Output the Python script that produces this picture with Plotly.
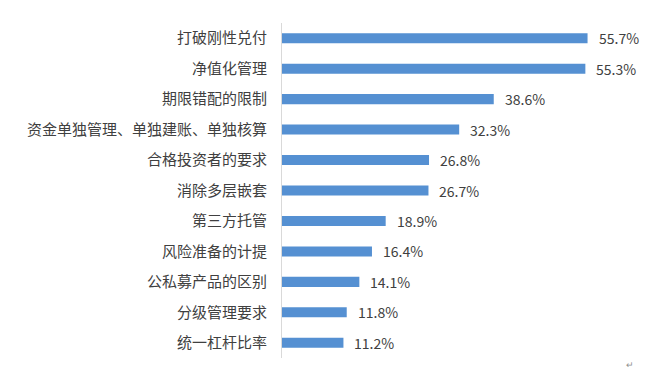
import plotly.graph_objects as go

categories = ["打破刚性兑付", "净值化管理", "期限错配的限制", "资金单独管理、单独建账、单独核算",
              "合格投资者的要求", "消除多层嵌套", "第三方托管", "风险准备的计提",
              "公私募产品的区别", "分级管理要求", "统一杠杆比率"]
values = [55.7, 55.3, 38.6, 32.3, 26.8, 26.7, 18.9, 16.4, 14.1, 11.8, 11.2]
value_labels = [f"{v:.1f}%" for v in values]

FONT = "Noto Sans CJK SC"

fig = go.Figure(go.Bar(
    x=values, y=categories, orientation="h",
    marker=dict(color="#5590d2", line=dict(width=0)),
    hoverinfo="skip",
))

for c, v, t in zip(categories, values, value_labels):
    fig.add_annotation(x=v, y=c, text=t, showarrow=False, xanchor="left",
                       xshift=9, font=dict(family=FONT, size=14, color="#404040"))

fig.add_annotation(xref="paper", yref="paper", x=0.922, y=-0.045, text="↵",
                   showarrow=False, font=dict(family=FONT, size=9, color="#909090"))

fig.update_layout(
    width=664, height=367,
    margin=dict(l=274, r=6, t=15, b=17),
    paper_bgcolor="white", plot_bgcolor="white",
    bargap=0.67,
    showlegend=False,
    font=dict(family=FONT, color="#404040"),
    xaxis=dict(range=[0, 70], showgrid=False, showticklabels=False,
               zeroline=False, showline=False, ticks="", automargin=False),
    yaxis=dict(autorange="reversed", showline=True, linecolor="#d9d9d9",
               linewidth=1, ticks="", showgrid=False, automargin=False,
               tickfont=dict(family=FONT, size=15, color="#404040"),
               ticklabelstandoff=11),
)

fig.write_html("out.html")
